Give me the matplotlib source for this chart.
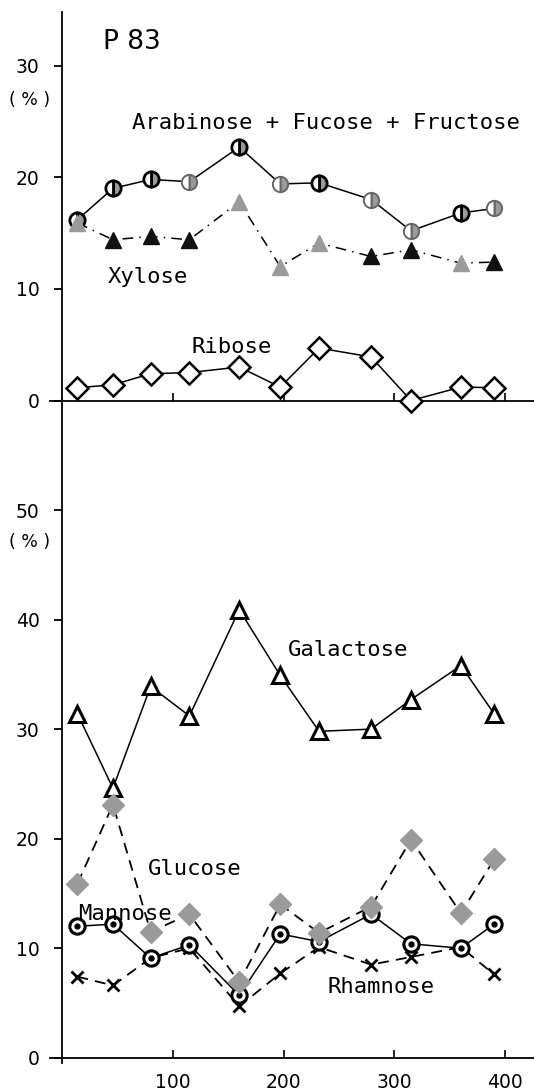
"""
sugar composition of P83 fractions, two stacked panels
"""
import numpy as np
import matplotlib.pyplot as plt

# sample positions, shared by every curve
x = [14, 46, 80, 115, 160, 197, 232, 279, 315, 360, 390]

# upper panel (%)
arabinose = [16.2, 19.0, 19.8, 19.6, 22.7, 19.4, 19.5, 18.0, 15.2, 16.8, 17.2]
xylose = [15.9, 14.4, 14.7, 14.4, 17.8, 12.0, 14.1, 12.9, 13.5, 12.3, 12.4]
ribose = [1.15, 1.4, 2.4, 2.5, 3.0, 1.2, 4.7, 3.9, 0.0, 1.2, 1.15]

# lower panel (%)
galactose = [31.4, 24.6, 33.9, 31.2, 40.9, 34.9, 29.8, 30.0, 32.7, 35.8, 31.4]
glucose = [15.9, 23.1, 11.5, 13.1, 6.9, 14.0, 11.4, 13.8, 19.9, 13.2, 18.1]
mannose = [12.0, 12.2, 9.1, 10.3, 5.7, 11.3, 10.6, 13.1, 10.4, 10.0, 12.2]
rhamnose = [7.4, 6.6, 9.1, 10.0, 4.7, 7.7, 10.1, 8.5, 9.2, 10.1, 7.6]

top_yticks = [0, 10, 20, 30]
bot_yticks = [0, 10, 20, 30, 40, 50]
xticks = [100, 200, 300, 400]

# which markers were printed dark (rest are grey)
xyl_dark = [0, 1, 1, 1, 0, 0, 0, 1, 1, 0, 1]
ara_dark = [1, 1, 1, 0, 1, 0, 1, 0, 0, 1, 0]

GREY = '#9a9a9a'
W, H = 534, 1091

fig = plt.figure(figsize=(W/100, H/100), dpi=100)


def box(top_px, bot_px):
    return [50/W, 1 - bot_px/H, 484/W, (bot_px - top_px)/H]


ax1 = fig.add_axes(box(12, 400.5))
ax2 = fig.add_axes(box(400.5, 1063))

for ax in (ax1, ax2):
    ax.set_xlim(-10.8, 426)
    for s in ('top', 'right'):
        ax.spines[s].set_visible(False)
    ax.spines['left'].set_position(('data', 0))
    ax.spines['bottom'].set_position(('data', 0))
    ax.spines['left'].set_linewidth(1.3)
    ax.spines['bottom'].set_linewidth(1.3)
    ax.set_xticks(xticks)
    ax.tick_params(axis='y', direction='out', length=6, width=1.3,
                   labelsize=13.5, pad=10)
    ax.tick_params(axis='x', direction='in', length=6, width=1.2,
                   labelsize=13.5, pad=11)
    ax.patch.set_alpha(0)

ax1.set_ylim(0, 34.8)
ax1.set_yticks(top_yticks)
ax1.set_xticklabels([])

ax2.set_ylim(-0.48, 60.0)
ax2.set_yticks(bot_yticks)

# ---- upper panel ----
ax1.plot(x, arabinose, '-', color='k', lw=1.1, zorder=2)
for xi, yi, d in zip(x, arabinose, ara_dark):
    ax1.plot(xi, yi, 'o', ms=11, fillstyle='right', markerfacecolor=GREY,
             markerfacecoloralt='white', mec='k' if d else '#666666',
             mew=2.0 if d else 1.4, zorder=3)

ax1.plot(x, xylose, color='k', lw=1.1, dashes=(7, 4, 1, 4), zorder=2)
for xi, yi, d in zip(x, xylose, xyl_dark):
    ax1.plot(xi, yi, '^', ms=12, color='#111111' if d else GREY,
             mec='#111111' if d else GREY, zorder=3)

ax1.plot(x, ribose, '-', color='k', lw=1.1, zorder=2)
ax1.plot(x, ribose, 'D', ms=11.5, mfc='white', mec='k', mew=1.8,
         clip_on=False, zorder=3)

# ---- lower panel ----
ax2.plot(x, galactose, '-', color='k', lw=1.1, zorder=2)
ax2.plot(x, galactose, '^', ms=11, mfc='white', mec='k', mew=2.2, zorder=3)

ax2.plot(x, rhamnose, color='k', lw=1.3, dashes=(6, 4), zorder=2)
ax2.plot(x, rhamnose, 'x', ms=8, color='k', mew=2.0, zorder=3)

ax2.plot(x, mannose, '-', color='k', lw=1.1, zorder=2)
ax2.plot(x, mannose, 'o', ms=11, mfc='white', mec='k', mew=2.2, zorder=3)
ax2.plot(x, mannose, 'o', ms=3.5, color='k', zorder=3)

ax2.plot(x, glucose, color='k', lw=1.3, dashes=(6, 4), zorder=2)
ax2.plot(x, glucose, 'D', ms=11, color=GREY, zorder=4)

# ---- labels ----
mono = dict(family='DejaVu Sans Mono', fontsize=16, va='center', ha='left')
ax1.text(63, 24.9, 'Arabinose + Fucose + Fructose', **mono)
ax1.text(41.5, 11.1, 'Xylose', **mono)
ax1.text(117, 4.8, 'Ribose', **mono)
ax2.text(204, 37.2, 'Galactose', **mono)
ax2.text(77.6, 17.2, 'Glucose', **mono)
ax2.text(14.4, 13.1, 'Mannose', zorder=5, **mono)
ax2.text(240, 6.5, 'Rhamnose', **mono)

ax1.text(37, 32.1, 'P 83', fontsize=19, va='center', ha='left')

fig.text(30/W, 1 - 100/H, '( % )', fontsize=12.5, ha='center', va='center')
fig.text(30/W, 1 - 542/H, '( % )', fontsize=12.5, ha='center', va='center')

plt.savefig('out.png', dpi=100)
